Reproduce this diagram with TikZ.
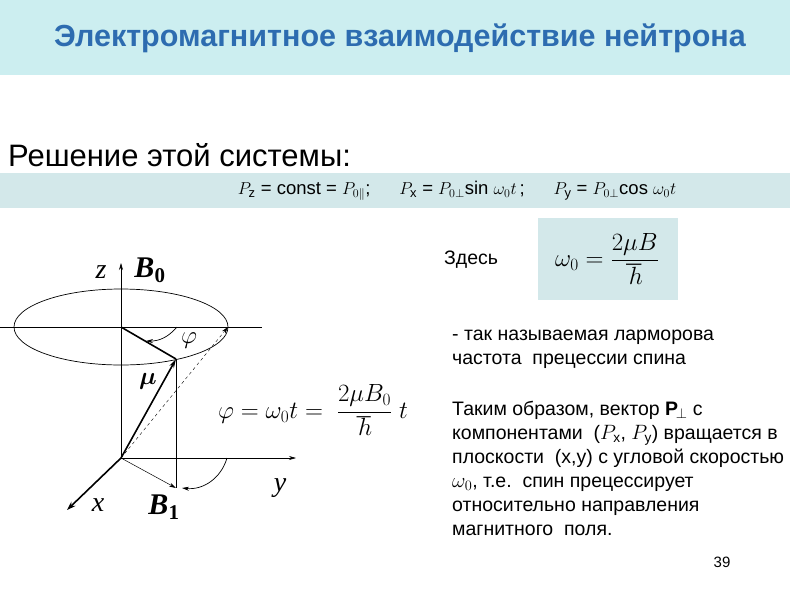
\documentclass[tikz,border=0pt]{standalone}
\usepackage{amsmath,amssymb,bm}
\usepackage{fontspec}
\setmainfont{Liberation Sans}
\newfontfamily\serifm{Liberation Serif}
\usetikzlibrary{arrows.meta}
\definecolor{barc}{HTML}{CCEEF0}
\definecolor{fbar}{HTML}{D3E8EA}
\definecolor{titc}{HTML}{2D6CB0}
\tikzset{ax/.style={line width=0.6pt,-{Stealth[length=7pt,width=4pt]}},
 thk/.style={line width=1.6pt},
 txt/.style={anchor=west,inner sep=0pt,font=\fontsize{19.5}{24}\selectfont}}
\begin{document}
\begin{tikzpicture}[x=1pt,y=-1pt]
\useasboundingbox (0,0) rectangle (800,600);
\fill[white] (0,0) rectangle (800,600);
\fill[barc] (0,0) rectangle (790,75);
\node (title) at (400,38) {\fontsize{30.5}{34}\selectfont\bfseries\color{titc}Электромагнитное взаимодействие нейтрона};
\node[anchor=west,inner sep=0pt] (sol) at (8,155) {\fontsize{31}{34}\selectfont Решение этой системы:};
\fill[fbar] (0,173) rectangle (790,208);
\node (eq) at (457,191) {\fontsize{18.5}{20}\selectfont $P_{\mathrm z}$ = const = $P_{0\|}$;\quad\ \ $P_{\mathrm x}$ = $P_{0\perp}$sin $\omega_0 t$\,;\quad\ \ $P_{\mathrm y}$ = $P_{0\perp}$cos $\omega_0 t$};
\node[txt] (zd) at (444,260) {Здесь};
\fill[fbar] (538,218) rectangle (678,300);
\node (om) at (607,259) {\fontsize{27}{30}\selectfont $\omega_0=\dfrac{2\mu B}{\hbar}$};
\node[txt,align=left,anchor=north west] (t1) at (452,330) {- так называемая ларморова\\частота\ \ прецессии спина};
\node[txt,align=left,anchor=north west] (t2) at (452,401) {Таким образом, вектор $\mathbf P_{\!\perp}$ с\\компонентами\ \ ($P_{\mathrm x}$, $P_{\mathrm y}$) вращается в\\плоскости\ \ (x,y) с угловой скоростью\\$\omega_0$, т.е.\ \ спин прецессирует\\относительно направления\\магнитного\ \ поля.};
\node (pg) at (722,562) {\fontsize{15}{17}\selectfont 39};
% diagram
\coordinate (O) at (121,458);
\coordinate (C) at (121,327);
\coordinate (M) at (176,359);
\coordinate (B1) at (176,488);
\coordinate (R) at (228,327);
\draw[line width=0.7pt] (C) ellipse (107 and 38);
\draw[line width=0.5pt] (0,327) -- (262,327);
\draw[ax] (O) -- (121,263);
\draw[ax] (O) -- (296,458);
\draw[thk,-{Stealth[length=9pt,width=6pt]}] (O) -- (67,510);
\draw[thk] (C) -- (M);
\draw[thk,-{Stealth[length=9pt,width=5pt]}] (O) -- (M);
\draw[line width=0.5pt] (M) -- (B1);
\draw[line width=0.5pt,-{Stealth[length=7pt,width=4pt]}] (O) -- (B1);
\draw[line width=0.4pt,dashed,-{Stealth[length=7pt,width=4pt]}] (O) -- (R);
\draw[line width=0.7pt,-{Stealth[length=7pt,width=4pt]}] (177,327) to[bend left=25] (146,341);
\draw[line width=0.7pt,-{Stealth[length=7pt,width=4pt]}] (227,458) to[bend left=40] (182,488);
\node (zl) at (101,272) {\serifm\itshape\fontsize{28}{28}\selectfont z};
\node (b0l) at (150,270) {\serifm\bfseries\itshape\fontsize{30}{30}\selectfont B\textsubscript{\upshape 0}};
\node (phl) at (189,341) {\fontsize{28}{28}\selectfont $\varphi$};
\node (mul) at (148,381) {\fontsize{28}{28}\selectfont $\bm\mu$};
\node (yl) at (280,488) {\serifm\itshape\fontsize{28}{28}\selectfont y};
\node (xl) at (98,505) {\serifm\itshape\fontsize{28}{28}\selectfont x};
\node (b1l) at (164,507) {\serifm\bfseries\itshape\fontsize{30}{30}\selectfont B\textsubscript{\upshape 1}};
\node (phf) at (313,410) {\fontsize{25}{25}\selectfont $\varphi=\omega_0 t=\ \dfrac{2\mu B_0}{\hbar}\ t$};
\end{tikzpicture}
\end{document}
